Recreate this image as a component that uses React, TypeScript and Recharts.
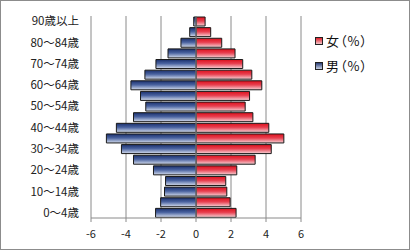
import React from 'react';
import { BarChart, Bar, XAxis, YAxis, CartesianGrid, ReferenceLine } from 'recharts';

const categories = ['90歳以上', '85～89歳', '80～84歳', '75～79歳', '70～74歳', '65～69歳', '60～64歳', '55～59歳', '50～54歳', '45～49歳', '40～44歳', '35～39歳', '30～34歳', '25～29歳', '20～24歳', '15～19歳', '10～14歳', '5～9歳', '0～4歳'];
const femaleValues = [0.52, 0.84, 1.47, 2.23, 2.67, 3.19, 3.76, 3.06, 2.81, 3.25, 4.16, 5.02, 4.30, 3.38, 2.33, 1.70, 1.76, 1.95, 2.29];
const maleValues = [-0.13, -0.36, -0.86, -1.60, -2.29, -2.92, -3.72, -3.17, -2.87, -3.57, -4.55, -5.12, -4.26, -3.57, -2.43, -1.74, -1.80, -2.02, -2.31];
const xTicks = [-6, -4, -2, 0, 2, 4, 6];
const seriesNames = { female: '女（%）', male: '男（%）' };

const data = categories.map((c, i) => ({ age: c, female: femaleValues[i], male: maleValues[i] }));

const FONT = '"Noto Sans CJK JP", "Noto Sans", sans-serif';

const legendItems = [
  { key: 'female', top: '#dc101c', bottom: '#f6d4d8' },
  { key: 'male', top: '#1a2f6c', bottom: '#d6deee' },
];

const LegendBox = () => (
  <div style={{ position: 'absolute', left: 315, top: 33, fontFamily: FONT, fontSize: 13, color: '#111', lineHeight: '16px', fontFeatureSettings: '"palt"', letterSpacing: 1 }}>
    {legendItems.map((it, idx) => (
      <div key={it.key} style={{ display: 'flex', alignItems: 'center', height: 16, marginBottom: idx === 0 ? 9 : 0 }}>
        <svg width={9} height={9} style={{ marginRight: 2 }}>
          <defs>
            <linearGradient id={'lg' + it.key} x1="0" y1="0" x2="0" y2="1">
              <stop offset="0%" stopColor={it.top} />
              <stop offset="100%" stopColor={it.bottom} />
            </linearGradient>
          </defs>
          <rect x={0.5} y={0.5} width={7} height={7} fill={'url(#lg' + it.key + ')'} stroke="#222" strokeWidth={1} />
        </svg>
        <span>{seriesNames[it.key as 'female' | 'male']}</span>
      </div>
    ))}
  </div>
);

export default function App() {
  return (
    <div style={{ position: 'fixed', left: 0, top: 0, width: 411, height: 251, background: '#fff' }}>
      <div style={{ position: 'absolute', left: 0, top: 0, width: 408, height: 248, border: '1px solid #8c8c8c' }} />
      <BarChart
        width={411}
        height={251}
        data={data}
        layout="vertical"
        stackOffset="sign"
        barCategoryGap={1}
        margin={{ top: 16, right: 110, left: 0, bottom: 5 }}
      >
        <defs>
          <linearGradient id="gFemale" x1="0" y1="0" x2="0" y2="1">
            <stop offset="0%" stopColor="#dc101c" />
            <stop offset="45%" stopColor="#e84050" />
            <stop offset="100%" stopColor="#f6d4d8" />
          </linearGradient>
          <linearGradient id="gMale" x1="0" y1="0" x2="0" y2="1">
            <stop offset="0%" stopColor="#1a2f6c" />
            <stop offset="45%" stopColor="#4a63a0" />
            <stop offset="100%" stopColor="#d6deee" />
          </linearGradient>
        </defs>
        <CartesianGrid horizontal={false} vertical={true} stroke="#8a8a8a" />
        <XAxis
          type="number"
          domain={[-6, 6]}
          ticks={xTicks}
          interval={0}
          stroke="#8a8a8a"
          tickSize={4}
          tickMargin={8}
          height={28}
          tick={{ fill: '#222', fontSize: 11, fontFamily: FONT }}
        />
        <YAxis
          type="category"
          dataKey="age"
          width={91}
          interval={1}
          axisLine={false}
          tickLine={false}
          tickSize={0}
          tickMargin={12}
          tick={{ fill: '#222', fontSize: 11.5, fontFamily: FONT }}
        />
        <Bar dataKey="female" name={seriesNames.female} stackId="a" fill="url(#gFemale)" stroke="#1a1a1a" strokeWidth={1} isAnimationActive={false} />
        <Bar dataKey="male" name={seriesNames.male} stackId="a" fill="url(#gMale)" stroke="#1a1a1a" strokeWidth={1} isAnimationActive={false} />
        <ReferenceLine x={0} stroke="#8a8a8a" />
      </BarChart>
      <LegendBox />
    </div>
  );
}
